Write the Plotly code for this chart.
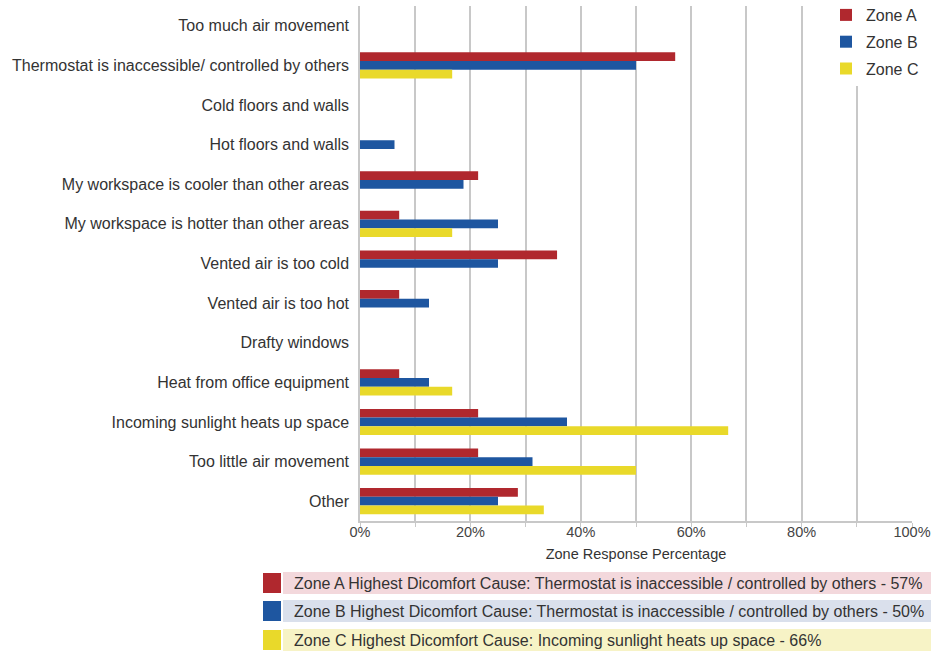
import plotly.graph_objects as go

categories = [
    "Too much air movement",
    "Thermostat is inaccessible/ controlled by others",
    "Cold floors and walls",
    "Hot floors and walls",
    "My workspace is cooler than other areas",
    "My workspace is hotter than other areas",
    "Vented air is too cold",
    "Vented air is too hot",
    "Drafty windows",
    "Heat from office equipment",
    "Incoming sunlight heats up space",
    "Too little air movement",
    "Other",
]
zone_a = [0, 57.1, 0, 0, 21.4, 7.1, 35.7, 7.1, 0, 7.1, 21.4, 21.4, 28.6]
zone_b = [0, 50.0, 0, 6.25, 18.75, 25.0, 25.0, 12.5, 0, 12.5, 37.5, 31.25, 25.0]
zone_c = [0, 16.7, 0, 0, 0, 16.7, 0, 0, 0, 16.7, 66.7, 50.0, 33.3]
series_names = ["Zone A", "Zone B", "Zone C"]
colors = ["#B0282E", "#1E56A0", "#E9D92A"]
box_colors = ["#F3D8DC", "#DAE0EC", "#F7F3C6"]
notes = [
    "Zone A Highest Dicomfort Cause: Thermostat is inaccessible / controlled by others - 57%",
    "Zone B Highest Dicomfort Cause: Thermostat is inaccessible / controlled by others - 50%",
    "Zone C Highest Dicomfort Cause: Incoming sunlight heats up space - 66%",
]
x_ticks = [0, 20, 40, 60, 80, 100]
x_tick_labels = ["0%", "20%", "40%", "60%", "80%", "100%"]

W, H = 940, 653
ML, MR, MT, MB = 360, 28, 6, 132
PW, PH = W - ML - MR, H - MT - MB

def px_x(p):
    return (p - ML) / PW

def px_y(p):
    return (H - MB - p) / PH

fig = go.Figure()
for name, vals, c in zip(series_names, [zone_a, zone_b, zone_c], colors):
    fig.add_trace(go.Bar(y=categories, x=vals, name=name, orientation="h",
                         legendgroup=name,
                         marker=dict(color=c, line=dict(width=0))))

font_family = "Liberation Sans, Arial, sans-serif"
txt_color = "#333333"
fig.update_layout(
    width=W, height=H,
    margin=dict(l=ML, r=MR, t=MT, b=MB, autoexpand=False),
    paper_bgcolor="white", plot_bgcolor="white",
    barmode="group", bargap=0.34, bargroupgap=0,
    font=dict(family=font_family, size=16, color=txt_color),
    legend=dict(x=px_x(826), y=px_y(-2), xanchor="left", yanchor="top",
                bgcolor="rgba(255,255,255,1)", font=dict(size=16, color=txt_color),
                tracegroupgap=3, itemsizing="constant"),
    xaxis=dict(range=[0, 100], tickvals=x_ticks, ticktext=x_tick_labels,
               showgrid=True, gridcolor="#C8C8C8", gridwidth=1.5,
               minor=dict(dtick=10, showgrid=True, gridcolor="#C8C8C8", gridwidth=1.5,
                          ticks="outside", ticklen=4, tickcolor="#C8C8C8"),
               showline=True, linecolor="#C8C8C8", linewidth=1.5,
               ticks="", zeroline=False, fixedrange=True, ticklabelstandoff=-3,
               title=dict(text="Zone Response Percentage", standoff=10,
                          font=dict(size=14.5, color=txt_color)),
               tickfont=dict(size=14.5, color="#444444")),
    yaxis=dict(autorange="reversed", showgrid=False, zeroline=False,
               showline=True, linecolor="#C8C8C8", linewidth=1.5,
               ticks="", ticklabelstandoff=6, fixedrange=True,
               tickfont=dict(size=16, color=txt_color)),
)

row_tops = [572, 600, 629]
row_h = 22
for top, c, bc, txt in zip(row_tops, colors, box_colors, notes):
    fig.add_shape(type="rect", xref="paper", yref="paper",
                  x0=px_x(283), x1=px_x(931), y0=px_y(top + row_h), y1=px_y(top),
                  fillcolor=bc, line=dict(width=0), layer="below")
    fig.add_shape(type="rect", xref="paper", yref="paper",
                  x0=px_x(263), x1=px_x(281), y0=px_y(top + row_h - 1), y1=px_y(top + 1),
                  fillcolor=c, line=dict(width=0))
    fig.add_annotation(xref="paper", yref="paper", x=px_x(292), y=px_y(top + row_h / 2),
                       xanchor="left", yanchor="middle", text=txt, showarrow=False,
                       font=dict(size=16, color=txt_color, family=font_family))

fig.write_html("out.html", config={"displayModeBar": False},
               post_script="document.body.style.margin='0';document.body.style.overflow='hidden';")
